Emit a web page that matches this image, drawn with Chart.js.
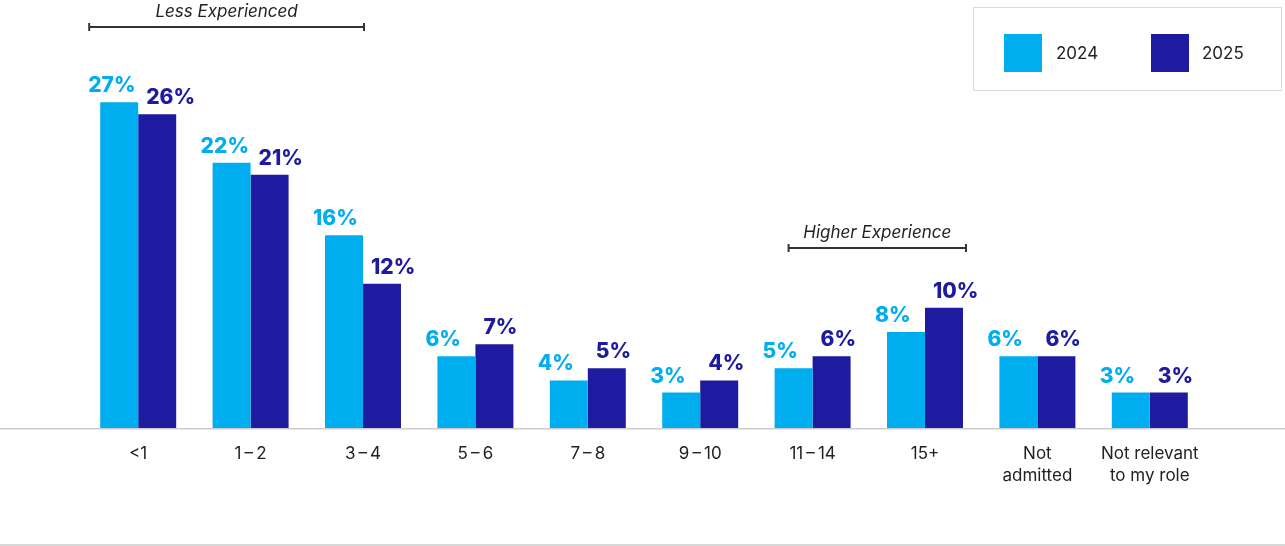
<!DOCTYPE html>
<html>
<head>
<meta charset="utf-8">
<script src="https://cdn.jsdelivr.net/npm/chart.js@4.4.1/dist/chart.umd.min.js"></script>
<style>
  html, body { margin: 0; padding: 0; background: #fff; }
  #wrap { position: relative; width: 1285px; height: 546px; }
  #legend {
    position: absolute; left: 973px; top: 7px; width: 307px; height: 82px;
    border: 1px solid #dcdcdc; font-family: Inter, "Noto Sans", sans-serif;
    font-size: 17px; color: #222;
  }
  .sw { position: absolute; top: 26px; width: 38px; height: 38px; }
  .lt { position: absolute; top: 35px; line-height: 20px; }
</style>
</head>
<body>
<div id="wrap">
  <canvas id="chart" width="1285" height="546"></canvas>
  <div id="legend">
    <div class="sw" style="left:30px;background:#00AEEF"></div><div class="lt" style="left:82px">2024</div>
    <div class="sw" style="left:177px;background:#1E1BA0"></div><div class="lt" style="left:228px">2025</div>
  </div>
</div>
<script>
const categories = ['<1', '1\u2009\u2013\u20092', '3\u2009\u2013\u20094', '5\u2009\u2013\u20096', '7\u2009\u2013\u20098', '9\u2009\u2013\u200910', '11\u2009\u2013\u200914', '15+', ['Not', 'admitted'], ['Not relevant', 'to my role']];
const values2024 = [27, 22, 16, 6, 4, 3, 5, 8, 6, 3];
const values2025 = [26, 21, 12, 7, 5, 4, 6, 10, 6, 3];
const seriesNames = ['2024', '2025'];
const colors = ['#00AEEF', '#1E1BA0'];

// lines, value labels and the two brackets
const extras = {
  id: 'extras',
  afterDatasetsDraw(chart) {
    const ctx = chart.ctx;
    const x = chart.scales.x, y = chart.scales.y;
    const base = y.getPixelForValue(0);
    ctx.save();
    ctx.strokeStyle = '#cccccc';
    ctx.lineWidth = 1.5;
    ctx.beginPath();
    ctx.moveTo(0, base); ctx.lineTo(chart.width, base);
    ctx.moveTo(0, 545); ctx.lineTo(chart.width, 545);
    ctx.stroke();

    ctx.font = '800 21px Inter, "Noto Sans", sans-serif';
    ctx.textAlign = 'left';
    ctx.textBaseline = 'alphabetic';
    chart.data.datasets.forEach((ds, di) => {
      chart.getDatasetMeta(di).data.forEach((bar, i) => {
        const left = bar.x - bar.width / 2;
        ctx.fillStyle = colors[di];
        ctx.fillText(ds.data[i] + '%', di === 0 ? left - 12 : left + 8, bar.y - 10);
      });
    });

    const bracket = (x1, x2, yy, text) => {
      ctx.strokeStyle = '#333';
      ctx.lineWidth = 2;
      ctx.beginPath();
      ctx.moveTo(x1, yy); ctx.lineTo(x2, yy);
      ctx.moveTo(x1, yy - 4); ctx.lineTo(x1, yy + 4);
      ctx.moveTo(x2, yy - 4); ctx.lineTo(x2, yy + 4);
      ctx.stroke();
      ctx.fillStyle = '#222';
      ctx.font = 'italic 17px Inter, "Noto Sans", sans-serif';
      ctx.textAlign = 'center';
      ctx.textBaseline = 'middle';
      ctx.fillText(text, (x1 + x2) / 2, yy - 15);
    };
    bracket(x.getPixelForValue(0) - 49, x.getPixelForValue(2) + 1, 27, 'Less Experienced');
    bracket(x.getPixelForValue(6) - 24, x.getPixelForValue(7) + 41, 248, 'Higher Experience');
    ctx.restore();
  }
};

new Chart(document.getElementById('chart'), {
  type: 'bar',
  data: {
    labels: categories,
    datasets: [
      { label: seriesNames[0], data: values2024, backgroundColor: colors[0] },
      { label: seriesNames[1], data: values2025, backgroundColor: colors[1] }
    ]
  },
  options: {
    responsive: false,
    animation: false,
    layout: { padding: { left: 82, right: 79, top: 66, bottom: 45 } },
    datasets: { bar: { barPercentage: 1, categoryPercentage: 0.676 } },
    plugins: { legend: { display: false }, tooltip: { enabled: false } },
    scales: {
      y: { display: false, min: 0, max: 30 },
      x: {
        grid: { display: false, drawTicks: false },
        border: { display: false },
        ticks: {
          color: '#222', padding: 14, maxRotation: 0, autoSkip: false,
          font: { family: 'Inter, "Noto Sans", sans-serif', size: 17, lineHeight: 1.3 }
        }
      }
    }
  },
  plugins: [extras]
});
</script>
</body>
</html>
